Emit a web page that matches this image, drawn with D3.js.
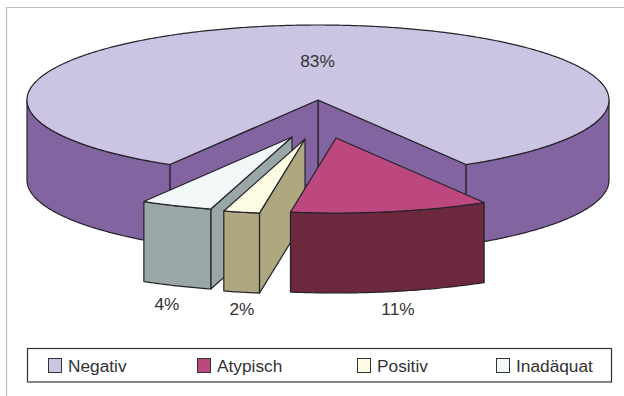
<!DOCTYPE html>
<html>
<head>
<meta charset="utf-8">
<script src="https://cdnjs.cloudflare.com/ajax/libs/d3/7.8.5/d3.min.js"></script>
<style>
  html, body { margin: 0; padding: 0; background: #fff; }
  text { font-family: "Liberation Sans", Arial, sans-serif; fill: #333; }
</style>
</head>
<body>
<svg id="chart" width="624" height="396"></svg>
<script>
// Befundverteilung
const categories = ["Negativ", "Atypisch", "Positiv", "Inadäquat"];
const shares = [83, 11, 2, 4];
const shareLabels = ["83%", "11%", "2%", "4%"];

// Fill colours per slice: top face and wall
const topColors = ["#cbc5e3", "#bd4880", "#fdfbe4", "#f2f8f8"];
const wallColors = ["#8265a0", "#6c283d", "#aea780", "#99a8a6"];

// Layout of the tilted pie
const width = 624, height = 396;
const centre = { x: 318, y: 100 };
const radiusX = 291, radiusY = 75, depth = 80;
const strokeColor = "#26222a";

// Displacement of each slice from the pie centre
const explode = [[0, 0], [18, 38], [-13, 39], [-26, 37]];
const labelPos = [[317.5, 67], [398, 315], [242, 315], [167, 310]];

const svg = d3.select("#chart");

// Unit circle to screen projection
const px = d3.scaleLinear().domain([-1, 1]).range([centre.x - radiusX, centre.x + radiusX]);
const py = d3.scaleLinear().domain([-1, 1]).range([centre.y - radiusY, centre.y + radiusY]);

// Angles measured clockwise from twelve o'clock; the large slice is centred on the back
const firstAngle = Math.PI + ((100 - shares[0]) / 100) * Math.PI;
const pie = d3.pie().sort(null)
  .startAngle(firstAngle)
  .endAngle(firstAngle + 2 * Math.PI);
const arcs = pie(shares);

const rimPoint = (a, dx, dy, drop = 0) => [
  px(Math.sin(a)) + dx,
  py(-Math.cos(a)) + dy + drop
];
const sample = (a0, a1) => {
  const n = Math.max(2, Math.ceil(Math.abs(a1 - a0) / 0.01));
  return d3.range(n + 1).map(i => a0 + (a1 - a0) * i / n);
};
const line = d3.line();

function drawFace(points, fill, stroke = strokeColor, close = true) {
  svg.append("path")
    .attr("d", line(points) + (close ? "Z" : ""))
    .attr("fill", fill)
    .attr("stroke", stroke)
    .attr("stroke-width", 1.2)
    .attr("stroke-linejoin", "round");
}

// Front wall of a slice between two angles, clipped to the half facing the viewer
function drawWall(a0, a1, dx, dy, fill) {
  const tau = 2 * Math.PI;
  for (const k of [0, 1]) {
    const lo = Math.max(a0, Math.PI / 2 + k * tau);
    const hi = Math.min(a1, 1.5 * Math.PI + k * tau);
    if (hi <= lo) continue;
    const top = sample(lo, hi).map(a => rimPoint(a, dx, dy));
    const bottom = sample(hi, lo).map(a => rimPoint(a, dx, dy, depth));
    drawFace(top.concat(bottom), fill);
  }
}

// Radial cut face of a slice from its apex to the rim
function drawCut(a, dx, dy, fill) {
  const apexTop = [centre.x + dx, centre.y + dy];
  const apexBottom = [centre.x + dx, centre.y + dy + depth];
  const rimTop = rimPoint(a, dx, dy);
  const rimBottom = rimPoint(a, dx, dy, depth);
  drawFace([apexTop, rimTop, rimBottom, apexBottom], fill);
}

function drawTop(a0, a1, dx, dy, fill) {
  const apex = [centre.x + dx, centre.y + dy];
  drawFace([apex].concat(sample(a0, a1).map(a => rimPoint(a, dx, dy))), fill);
}

// Chart frame: only the top and left rules are drawn
svg.append("path")
  .attr("d", "M6.5,396V7.5H624")
  .attr("fill", "none")
  .attr("stroke", "#bdbdbd")
  .attr("stroke-width", 1.2);

// Large slice: inner cut faces, outer wall, then the top
const neg = arcs[0];
drawCut(neg.endAngle - 2 * Math.PI, 0, 0, wallColors[0]);
drawCut(neg.startAngle, 0, 0, wallColors[0]);
drawWall(neg.startAngle, neg.endAngle, 0, 0, wallColors[0]);
drawTop(neg.startAngle, neg.endAngle, 0, 0, topColors[0]);

// Exploded slices, drawn from the left so that nearer ones overlap
[3, 2, 1].forEach(i => {
  const d = arcs[i];
  const [dx, dy] = explode[i];
  const lo = d.startAngle % (2 * Math.PI), hi = lo + (d.endAngle - d.startAngle);
  if (lo > Math.PI) drawCut(lo, dx, dy, wallColors[i]);
  drawWall(lo, hi, dx, dy, wallColors[i]);
  drawTop(lo, hi, dx, dy, topColors[i]);
});

// Value labels
shareLabels.forEach((label, i) => {
  svg.append("text")
    .attr("x", labelPos[i][0])
    .attr("y", labelPos[i][1])
    .attr("text-anchor", "middle")
    .attr("font-size", 17.3)
    .text(label);
});

// Legend
const legend = svg.append("g");
legend.append("rect")
  .attr("x", 27.5).attr("y", 348.5)
  .attr("width", 584).attr("height", 33.5)
  .attr("fill", "#fff").attr("stroke", "#333").attr("stroke-width", 1.2);

const legendX = d3.scaleOrdinal().domain(categories).range([48, 197, 357, 496]);
categories.forEach((c, i) => {
  legend.append("rect")
    .attr("x", legendX(c) + 0.5).attr("y", 358.5)
    .attr("width", 13).attr("height", 14)
    .attr("fill", topColors[i]).attr("stroke", "#333").attr("stroke-width", 1);
  legend.append("text")
    .attr("x", legendX(c) + 20).attr("y", 372)
    .attr("font-size", 17.3)
    .text(c);
});
</script>
</body>
</html>
